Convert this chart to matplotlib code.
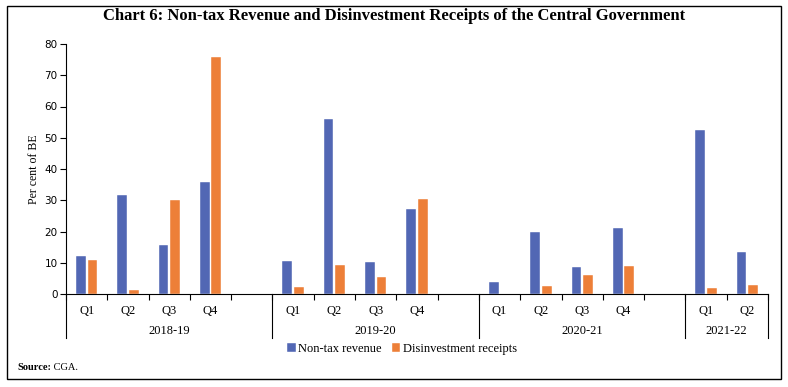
import numpy as np
import matplotlib.pyplot as plt
from matplotlib.patches import Rectangle
from matplotlib.transforms import blended_transform_factory

# data (per cent of BE)
periods = ['2018-19', '2019-20', '2020-21', '2021-22']
quarters = [['Q1', 'Q2', 'Q3', 'Q4'],
            ['Q1', 'Q2', 'Q3', 'Q4'],
            ['Q1', 'Q2', 'Q3', 'Q4'],
            ['Q1', 'Q2']]
non_tax = [12.3, 31.8, 15.7, 35.8,
           10.6, 56.0, 10.3, 27.1,
           3.7, 20.0, 8.7, 21.0,
           52.4, 13.4]
disinvest = [10.8, 1.3, 30.2, 75.7,
             2.1, 9.4, 5.3, 30.5,
             0.0, 2.6, 6.1, 9.0,
             2.0, 2.9]
yticks = np.arange(0, 81, 10)

blue = '#5267B4'
orange = '#ED7F38'
serif = 'Liberation Serif'

# slot layout: each period gets its quarters plus one empty slot (except last)
pos = []
qlabels = []
group_edges = [0]
group_centres = []
slot = 0
for k, qs in enumerate(quarters):
    start = slot
    for q in qs:
        pos.append(slot + 0.5)
        qlabels.append(q)
        slot += 1
    if k < len(quarters) - 1:
        slot += 1
    group_edges.append(slot)
    group_centres.append((start + slot) / 2)
pos = np.array(pos)
nslots = slot

fig = plt.figure(figsize=(7.88, 3.87), dpi=100)
ax = fig.add_axes([66 / 788, 1 - 294 / 387, 702 / 788, 250 / 387])

w = 0.235
ax.bar(pos - 0.14, non_tax, width=w, color=blue, edgecolor='white', linewidth=0.3,
       label='Non-tax revenue')
ax.bar(pos + 0.14, disinvest, width=w, color=orange, edgecolor='white', linewidth=0.3,
       label='Disinvestment receipts')

ax.set_xlim(0, nslots)
ax.set_ylim(0, 80)
ax.set_yticks(yticks)
ax.tick_params(axis='y', length=4, width=0.8, labelsize=7.5, pad=2)
for t in ax.get_yticklabels():
    t.set_fontfamily('DejaVu Sans')

ax.set_xticks(pos)
ax.set_xticklabels(qlabels, fontfamily=serif, fontsize=9)
ax.tick_params(axis='x', which='major', length=0, pad=8)
ax.set_xticks(np.arange(0, nslots + 1), minor=True)
ax.tick_params(axis='x', which='minor', length=4, width=0.8, direction='out')

for s in ['top', 'right']:
    ax.spines[s].set_visible(False)
ax.spines['left'].set_linewidth(0.8)
ax.spines['bottom'].set_linewidth(0.8)

ax.set_ylabel('Per cent of BE', fontfamily=serif, fontsize=8.5, labelpad=3)

trans = blended_transform_factory(ax.transData, ax.transAxes)
for e in group_edges:
    ax.plot([e, e], [0, -44 / 250], color='black', lw=0.8, transform=trans, clip_on=False)
for c, p in zip(group_centres, periods):
    ax.text(c, -37 / 250, p, transform=trans, ha='center', va='center',
            fontfamily=serif, fontsize=9)

fig.legend(loc='center', bbox_to_anchor=(402 / 788, 1 - 349 / 387), ncol=2,
           frameon=False, prop={'family': serif, 'size': 9},
           handlelength=0.7, handleheight=0.7, handletextpad=0.2, columnspacing=0.8)

fig.text(0.5, 1 - 16 / 387, 'Chart 6: Non-tax Revenue and Disinvestment Receipts of the Central Government',
         ha='center', va='center', fontfamily=serif, fontweight='bold', fontsize=12)
src = fig.text(17 / 788, 1 - 367 / 387, 'Source:', ha='left', va='center',
               fontfamily=serif, fontweight='bold', fontsize=7.5)
ax.annotate(' CGA.', xy=(1, 0.5), xycoords=src, ha='left', va='center',
            fontfamily=serif, fontsize=7.5, annotation_clip=False)

fig.patches.append(Rectangle((7 / 788, 1 - 379 / 387), 774 / 788, 373 / 387,
                             transform=fig.transFigure, fill=False,
                             edgecolor='black', lw=1))

fig.savefig('out.png', dpi=100)
